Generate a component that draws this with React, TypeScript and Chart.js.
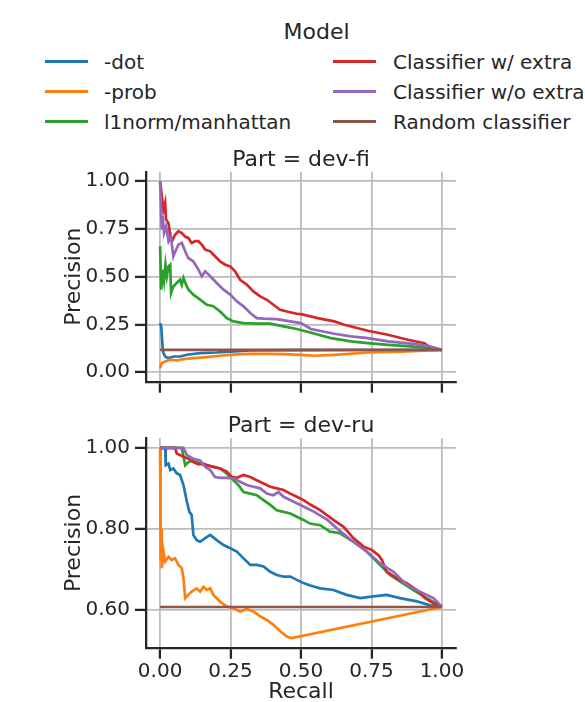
import React, { useEffect, useRef } from 'react';
import { Chart, registerables } from 'chart.js';
Chart.register(...registerables);

const FONT = '"DejaVu Sans", "Liberation Sans", sans-serif';
const TEXT = '#262626';
const GRID = '#bcbcbc';

// ---- labels / ticks ----
const legendTitle = 'Model';
const seriesNames = ['-dot', '-prob', 'l1norm/manhattan', 'Classifier w/ extra', 'Classifier w/o extra', 'Random classifier'];
const seriesColors = ['#1f77b4', '#ff7f0e', '#2ca02c', '#d62728', '#9467bd', '#8c564b'];
const panelTitles = ['Part = dev-fi', 'Part = dev-ru'];
const recallTicks = [0, 0.25, 0.5, 0.75, 1];
const fiPrecisionTicks = [0, 0.25, 0.5, 0.75, 1];
const ruPrecisionTicks = [0.6, 0.8, 1.0];
const recallRange = [-0.05, 1.05];
const fiPrecisionRange = [-0.05, 1.05];
const ruPrecisionRange = [0.5065, 1.0235];

// ---- dev-fi curves: [recall, precision] ----
const fiDot = [[0, 0.257], [0.004, 0.24], [0.009, 0.13], [0.012, 0.1], [0.018, 0.082], [0.03, 0.073], [0.047, 0.082], [0.071, 0.082], [0.095, 0.091], [0.142, 0.1], [0.201, 0.103], [0.249, 0.108], [0.32, 0.114], [0.5, 0.115], [0.75, 0.116], [1, 0.117]];
const fiProb = [[0, 0.021], [0.006, 0.047], [0.018, 0.056], [0.036, 0.065], [0.059, 0.061], [0.083, 0.068], [0.118, 0.073], [0.166, 0.079], [0.213, 0.086], [0.272, 0.093], [0.32, 0.096], [0.379, 0.096], [0.438, 0.094], [0.5, 0.091], [0.547, 0.086], [0.618, 0.091], [0.737, 0.103], [0.855, 0.108], [1, 0.117]];
const fiL1 = [[0, 0.66], [0.004, 0.432], [0.009, 0.537], [0.014, 0.48], [0.019, 0.563], [0.024, 0.502], [0.03, 0.554], [0.036, 0.563], [0.039, 0.414], [0.047, 0.449], [0.059, 0.467], [0.071, 0.484], [0.077, 0.458], [0.083, 0.493], [0.092, 0.458], [0.101, 0.432], [0.118, 0.406], [0.142, 0.38], [0.166, 0.353], [0.189, 0.345], [0.213, 0.318], [0.237, 0.283], [0.26, 0.266], [0.296, 0.257], [0.343, 0.254], [0.391, 0.254], [0.438, 0.24], [0.485, 0.226], [0.533, 0.208], [0.606, 0.178], [0.677, 0.161], [0.737, 0.152], [0.808, 0.143], [0.89, 0.135], [0.961, 0.126], [1, 0.117]];
const fiClsExtra = [[0, 1.0], [0.004, 0.95], [0.012, 0.85], [0.018, 0.887], [0.021, 0.8], [0.03, 0.78], [0.036, 0.71], [0.045, 0.694], [0.053, 0.72], [0.065, 0.738], [0.077, 0.729], [0.089, 0.71], [0.1, 0.703], [0.112, 0.677], [0.124, 0.686], [0.136, 0.686], [0.148, 0.668], [0.16, 0.642], [0.178, 0.633], [0.195, 0.607], [0.213, 0.58], [0.231, 0.563], [0.249, 0.554], [0.266, 0.528], [0.284, 0.484], [0.308, 0.458], [0.331, 0.423], [0.355, 0.397], [0.379, 0.379], [0.402, 0.353], [0.426, 0.327], [0.45, 0.318], [0.485, 0.306], [0.5, 0.304], [0.559, 0.283], [0.618, 0.266], [0.654, 0.248], [0.737, 0.217], [0.808, 0.196], [0.879, 0.17], [0.938, 0.152], [0.961, 0.126], [1, 0.117]];
const fiClsNoExtra = [[0, 1.0], [0.006, 0.747], [0.009, 0.817], [0.014, 0.73], [0.021, 0.764], [0.03, 0.686], [0.038, 0.712], [0.047, 0.607], [0.057, 0.642], [0.065, 0.668], [0.077, 0.677], [0.089, 0.633], [0.1, 0.598], [0.118, 0.58], [0.136, 0.537], [0.148, 0.502], [0.16, 0.528], [0.178, 0.502], [0.201, 0.467], [0.225, 0.432], [0.249, 0.406], [0.272, 0.371], [0.296, 0.345], [0.32, 0.31], [0.343, 0.283], [0.367, 0.28], [0.414, 0.278], [0.462, 0.266], [0.5, 0.257], [0.535, 0.226], [0.618, 0.201], [0.677, 0.187], [0.737, 0.178], [0.808, 0.161], [0.89, 0.149], [0.95, 0.138], [1, 0.117]];
const fiRandom = [[0, 0.117], [1, 0.117]];

// ---- dev-ru curves: [recall, precision] ----
const ruDot = [[0, 1.0], [0.018, 1.0], [0.02, 0.957], [0.03, 0.961], [0.036, 0.945], [0.047, 0.949], [0.059, 0.937], [0.071, 0.933], [0.083, 0.908], [0.095, 0.867], [0.104, 0.842], [0.112, 0.834], [0.118, 0.785], [0.13, 0.772], [0.142, 0.768], [0.16, 0.777], [0.178, 0.785], [0.201, 0.772], [0.225, 0.76], [0.249, 0.752], [0.272, 0.744], [0.296, 0.727], [0.32, 0.711], [0.343, 0.711], [0.367, 0.707], [0.391, 0.694], [0.414, 0.686], [0.438, 0.682], [0.462, 0.682], [0.485, 0.674], [0.509, 0.666], [0.533, 0.66], [0.568, 0.653], [0.615, 0.649], [0.662, 0.637], [0.71, 0.629], [0.757, 0.633], [0.804, 0.637], [0.851, 0.629], [0.911, 0.621], [0.958, 0.611], [1, 0.607]];
const ruProb = [[0, 1.0], [0.002, 0.72], [0.004, 0.8], [0.006, 0.703], [0.012, 0.744], [0.018, 0.719], [0.03, 0.731], [0.041, 0.723], [0.053, 0.727], [0.065, 0.711], [0.077, 0.703], [0.083, 0.678], [0.089, 0.629], [0.1, 0.637], [0.112, 0.645], [0.13, 0.653], [0.142, 0.645], [0.154, 0.657], [0.166, 0.649], [0.178, 0.653], [0.189, 0.637], [0.213, 0.62], [0.237, 0.608], [0.26, 0.604], [0.284, 0.596], [0.308, 0.602], [0.331, 0.596], [0.355, 0.584], [0.379, 0.575], [0.402, 0.563], [0.426, 0.547], [0.45, 0.534], [0.467, 0.53], [1, 0.607]];
const ruL1 = [[0, 1.0], [0.077, 1.0], [0.089, 0.957], [0.101, 0.965], [0.118, 0.969], [0.142, 0.961], [0.166, 0.957], [0.189, 0.953], [0.213, 0.949], [0.237, 0.936], [0.26, 0.92], [0.278, 0.908], [0.296, 0.891], [0.32, 0.887], [0.343, 0.883], [0.367, 0.871], [0.391, 0.859], [0.414, 0.846], [0.438, 0.842], [0.462, 0.838], [0.485, 0.83], [0.509, 0.822], [0.532, 0.813], [0.568, 0.809], [0.603, 0.793], [0.639, 0.789], [0.686, 0.768], [0.733, 0.744], [0.78, 0.711], [0.816, 0.686], [0.851, 0.67], [0.899, 0.649], [0.946, 0.629], [1, 0.607]];
const ruClsExtra = [[0, 1.0], [0.053, 1.0], [0.059, 0.986], [0.071, 0.982], [0.083, 0.978], [0.101, 0.973], [0.118, 0.965], [0.136, 0.959], [0.154, 0.961], [0.172, 0.956], [0.189, 0.953], [0.213, 0.949], [0.237, 0.941], [0.254, 0.928], [0.272, 0.926], [0.296, 0.933], [0.32, 0.928], [0.343, 0.92], [0.367, 0.912], [0.391, 0.904], [0.414, 0.9], [0.438, 0.896], [0.462, 0.887], [0.485, 0.879], [0.509, 0.871], [0.533, 0.86], [0.568, 0.846], [0.615, 0.822], [0.651, 0.805], [0.686, 0.777], [0.722, 0.756], [0.751, 0.748], [0.775, 0.735], [0.787, 0.723], [0.804, 0.694], [0.84, 0.678], [0.875, 0.666], [0.911, 0.649], [0.94, 0.629], [0.97, 0.616], [1, 0.607]];
const ruClsNoExtra = [[0, 1.0], [0.083, 1.0], [0.095, 0.982], [0.118, 0.973], [0.142, 0.969], [0.16, 0.953], [0.178, 0.945], [0.195, 0.928], [0.213, 0.926], [0.237, 0.926], [0.26, 0.924], [0.284, 0.916], [0.308, 0.908], [0.331, 0.904], [0.355, 0.9], [0.379, 0.887], [0.402, 0.883], [0.42, 0.891], [0.438, 0.879], [0.462, 0.871], [0.485, 0.863], [0.509, 0.855], [0.547, 0.842], [0.594, 0.822], [0.641, 0.793], [0.686, 0.768], [0.733, 0.744], [0.78, 0.715], [0.828, 0.694], [0.875, 0.662], [0.922, 0.645], [0.97, 0.629], [1, 0.607]];
const ruRandom = [[0, 0.607], [1, 0.607]];

const fiCurves = [fiDot, fiProb, fiL1, fiClsExtra, fiClsNoExtra, fiRandom];
const ruCurves = [ruDot, ruProb, ruL1, ruClsExtra, ruClsNoExtra, ruRandom];

type PanelProps = {
  top: number;
  height: number;
  title: string;
  curves: number[][][];
  yTicks: number[];
  yRange: number[];
  showX: boolean;
  xAxisHeight: number;
  padTop: number;
  titleGap: number;
};

function Panel(p: PanelProps) {
  const ref = useRef<HTMLCanvasElement>(null);
  useEffect(() => {
    const grid = { color: GRID, lineWidth: 1.8, tickColor: TEXT, tickWidth: 2.3, tickLength: 11, drawTicks: true };
    const border = { display: true, color: TEXT, width: 2.3 };
    const chart = new Chart(ref.current as HTMLCanvasElement, {
      type: 'line',
      data: {
        datasets: p.curves.map((pts, i) => ({
          label: seriesNames[i],
          data: pts.map(([x, y]) => ({ x, y })),
          borderColor: seriesColors[i],
          backgroundColor: seriesColors[i],
          borderWidth: 2.7,
          pointRadius: 0,
          pointHoverRadius: 0,
          tension: 0,
          fill: false,
          order: p.curves.length - 1 - i,
        })),
      },
      options: {
        animation: false,
        responsive: false,
        maintainAspectRatio: false,
        events: [],
        layout: { padding: { left: 0, right: 129, top: p.padTop, bottom: 0 } },
        plugins: {
          legend: { display: false },
          tooltip: { enabled: false },
          title: {
            display: true,
            text: p.title,
            color: TEXT,
            font: { family: FONT, size: 22, weight: 'normal', lineHeight: 1 },
            padding: { top: 0, bottom: p.titleGap },
            fullSize: false,
          },
        },
        scales: {
          x: {
            type: 'linear',
            position: 'bottom',
            min: recallRange[0],
            max: recallRange[1],
            afterBuildTicks: (s: any) => { s.ticks = recallTicks.map((v) => ({ value: v })); },
            afterFit: (s: any) => { s.height = p.xAxisHeight; },
            ticks: {
              display: p.showX,
              color: TEXT,
              font: { family: FONT, size: 20 },
              padding: 1.5,
              maxRotation: 0,
              autoSkip: false,
              callback: (v: any) => Number(v).toFixed(2),
            },
            grid,
            border,
            title: {
              display: p.showX,
              text: 'Recall',
              color: TEXT,
              font: { family: FONT, size: 22 },
              padding: { top: 0, bottom: 4.5 },
            },
          },
          y: {
            type: 'linear',
            position: 'left',
            min: p.yRange[0],
            max: p.yRange[1],
            afterBuildTicks: (s: any) => { s.ticks = p.yTicks.map((v) => ({ value: v })); },
            afterFit: (s: any) => { s.width = 146; },
            ticks: {
              color: TEXT,
              font: { family: FONT, size: 20 },
              padding: 5,
              autoSkip: false,
              callback: (v: any) => Number(v).toFixed(2),
            },
            grid,
            border,
            title: {
              display: true,
              text: 'Precision',
              color: TEXT,
              font: { family: FONT, size: 22 },
              padding: { top: 61, bottom: 0 },
            },
          },
        },
      } as any,
    });
    return () => chart.destroy();
  }, []);
  return (
    <canvas
      ref={ref}
      width={585}
      height={p.height}
      style={{ position: 'absolute', left: 0, top: p.top, width: 585, height: p.height }}
    />
  );
}

const legendColX = [45, 333];
const legendTextX = [104, 393];
const legendRowY = [61.7, 91.7, 121.7];

function Legend() {
  return (
    <>
      <div
        style={{
          position: 'absolute', left: 316.5, top: 32, transform: 'translate(-50%, -50%)',
          fontSize: 22, lineHeight: '22px', whiteSpace: 'nowrap', color: TEXT,
        }}
      >
        {legendTitle}
      </div>
      {seriesNames.map((name, i) => {
        const col = Math.floor(i / 3);
        const row = i % 3;
        const y = legendRowY[row];
        return (
          <React.Fragment key={name}>
            <div
              style={{
                position: 'absolute', left: legendColX[col], top: y - 1.35, width: 43, height: 2.7,
                background: seriesColors[i],
              }}
            />
            <div
              style={{
                position: 'absolute', left: legendTextX[col], top: y, transform: 'translateY(-50%)',
                fontSize: 20, lineHeight: '20px', whiteSpace: 'nowrap', color: TEXT,
              }}
            >
              {name}
            </div>
          </React.Fragment>
        );
      })}
    </>
  );
}

export default function App() {
  return (
    <div
      style={{
        position: 'absolute', left: 0, top: 0, width: 585, height: 702, overflow: 'hidden',
        background: '#fff', fontFamily: FONT,
      }}
    >
      <Legend />
      <Panel
        top={140}
        height={260}
        title={panelTitles[0]}
        curves={fiCurves}
        yTicks={fiPrecisionTicks}
        yRange={fiPrecisionRange}
        showX={false}
        xAxisHeight={18.3}
        padTop={9}
        titleGap={0.7}
      />
      <Panel
        top={400}
        height={310}
        title={panelTitles[1]}
        curves={ruCurves}
        yTicks={ruPrecisionTicks}
        yRange={ruPrecisionRange}
        showX={true}
        xAxisHeight={62.3}
        padTop={15}
        titleGap={1.3}
      />
    </div>
  );
}
